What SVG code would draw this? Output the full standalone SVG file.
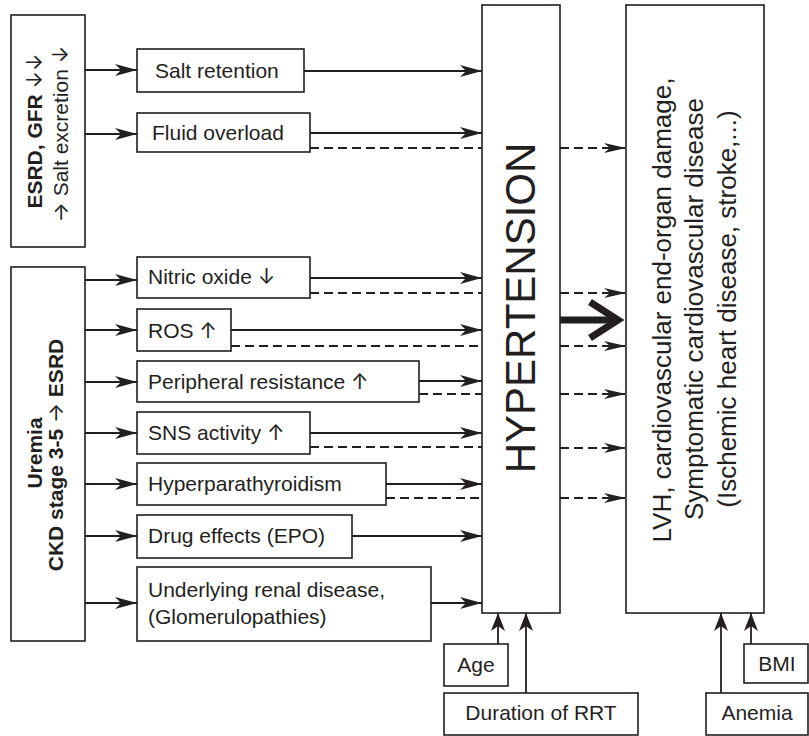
<svg xmlns="http://www.w3.org/2000/svg" width="809" height="736" viewBox="0 0 809 736">
<style>
.box{fill:#fff;stroke:#231f20;stroke-width:1.6}
.t{font-family:"Liberation Sans",Arial,sans-serif;font-size:21px;fill:#231f20}
.b{font-weight:bold}
.ar{font-family:Inter,"DejaVu Sans",sans-serif;font-weight:normal}
.ln{stroke:#231f20;stroke-width:1.8;fill:none}
.dash{stroke:#231f20;stroke-width:1.8;fill:none;stroke-dasharray:9 5}
</style>
<defs>
<marker id="ah" markerUnits="userSpaceOnUse" markerWidth="24" markerHeight="14" refX="22" refY="7" orient="auto">
<path d="M0,1 L22,7 L0,13 L6,7 Z" fill="#231f20"/>
</marker>
<marker id="ah2" markerUnits="userSpaceOnUse" markerWidth="24" markerHeight="14" refX="22" refY="7" orient="auto">
<path d="M0,2 L22,7 L0,12 L6,7 Z" fill="#231f20"/>
</marker>
<marker id="au" markerUnits="userSpaceOnUse" markerWidth="20" markerHeight="16" refX="18" refY="8" orient="auto">
<path d="M0,1 L18,8 L0,15 L5,8 Z" fill="#231f20"/>
</marker>
</defs>

<g id="esrd">
<rect class="box" x="11" y="15" width="74" height="232"/>
<text class="t b" transform="translate(42,131) rotate(-90)" text-anchor="middle">ESRD, GFR <tspan class="ar">↓↓</tspan></text>
<text class="t" transform="translate(68,134) rotate(-90)" text-anchor="middle"><tspan class="ar">→</tspan> Salt excretion <tspan class="ar">↓</tspan></text>
</g>
<g id="uremia">
<rect class="box" x="11" y="267" width="74" height="374"/>
<text class="t b" transform="translate(42,453) rotate(-90)" text-anchor="middle">Uremia</text>
<text class="t b" transform="translate(63,455) rotate(-90)" text-anchor="middle">CKD stage 3-5 <tspan class="ar">→</tspan> ESRD</text>
</g>

<g id="salt"><rect class="box" x="137" y="49" width="167" height="43"/><text class="t" x="155" y="78">Salt retention</text></g>
<g id="fluid"><rect class="box" x="137" y="113" width="173" height="39"/><text class="t" x="152" y="140">Fluid overload</text></g>
<g id="nitric"><rect class="box" x="137" y="257" width="173" height="41"/><text class="t" x="148" y="284">Nitric oxide <tspan class="ar">↓</tspan></text></g>
<g id="ros"><rect class="box" x="137" y="309" width="94" height="42"/><text class="t" x="148" y="338">ROS <tspan class="ar">↑</tspan></text></g>
<g id="peripheral"><rect class="box" x="137" y="361" width="282" height="41"/><text class="t" x="148" y="389">Peripheral resistance <tspan class="ar">↑</tspan></text></g>
<g id="sns"><rect class="box" x="137" y="412" width="173" height="42"/><text class="t" x="148" y="440">SNS activity <tspan class="ar">↑</tspan></text></g>
<g id="hyperpara"><rect class="box" x="137" y="463" width="249" height="42"/><text class="t" x="148" y="491">Hyperparathyroidism</text></g>
<g id="drug"><rect class="box" x="137" y="515" width="215" height="43"/><text class="t" x="148" y="543">Drug effects (EPO)</text></g>
<g id="underlying"><rect class="box" x="137" y="567" width="294" height="74"/><text class="t" x="148" y="597">Underlying renal disease,</text><text class="t" x="148" y="624">(Glomerulopathies)</text></g>

<g id="hypertension">
<rect class="box" x="482" y="5" width="78" height="608"/>
<text class="t" style="font-size:42px" transform="translate(535,308) rotate(-90)" text-anchor="middle">HYPERTENSION</text>
</g>
<g id="cvd">
<rect class="box" x="626" y="5" width="138" height="608"/>
<text class="t" style="font-size:26px" transform="translate(671,310) rotate(-90)" text-anchor="middle">LVH, cardiovascular end-organ damage,</text>
<text class="t" style="font-size:26px" transform="translate(703,309) rotate(-90)" text-anchor="middle">Symptomatic cardiovascular disease</text>
<text class="t" style="font-size:26px" transform="translate(736,309) rotate(-90)" text-anchor="middle">(Ischemic heart disease, stroke,...)</text>
</g>

<g id="age"><rect class="box" x="444" y="644" width="64" height="42"/><text class="t" x="476" y="672" text-anchor="middle">Age</text></g>
<g id="rrt"><rect class="box" x="444" y="693" width="194" height="42"/><text class="t" x="541" y="720" text-anchor="middle">Duration of RRT</text></g>
<g id="anemia"><rect class="box" x="706" y="693" width="102" height="42"/><text class="t" x="757" y="720" text-anchor="middle">Anemia</text></g>
<g id="bmi"><rect class="box" x="744" y="644" width="64" height="39"/><text class="t" x="777" y="671" text-anchor="middle">BMI</text></g>

<g id="connectors">
<path class="ln" marker-end="url(#ah)" d="M85,70H137"/>
<path class="ln" marker-end="url(#ah)" d="M85,134H137"/>
<path class="ln" marker-end="url(#ah)" d="M85,280H137"/>
<path class="ln" marker-end="url(#ah)" d="M85,330H137"/>
<path class="ln" marker-end="url(#ah)" d="M85,382H137"/>
<path class="ln" marker-end="url(#ah)" d="M85,433H137"/>
<path class="ln" marker-end="url(#ah)" d="M85,484H137"/>
<path class="ln" marker-end="url(#ah)" d="M85,536H137"/>
<path class="ln" marker-end="url(#ah)" d="M85,603H137"/>

<path class="ln" marker-end="url(#ah)" d="M304,71H482"/>
<path class="ln" marker-end="url(#ah)" d="M310,133H482"/>
<path class="ln" marker-end="url(#ah)" d="M310,278H482"/>
<path class="ln" marker-end="url(#ah)" d="M231,330H482"/>
<path class="ln" marker-end="url(#ah)" d="M419,381H482"/>
<path class="ln" marker-end="url(#ah)" d="M310,433H482"/>
<path class="ln" marker-end="url(#ah)" d="M386,484H482"/>
<path class="ln" marker-end="url(#ah)" d="M352,536H482"/>
<path class="ln" marker-end="url(#ah)" d="M431,603H482"/>

<path class="dash" d="M310,148H482"/>
<path class="dash" d="M310,293H482"/>
<path class="dash" d="M231,346H482"/>
<path class="dash" d="M419,394H482"/>
<path class="dash" d="M310,447H482"/>
<path class="dash" d="M386,498H482"/>

<path class="dash" marker-end="url(#ah2)" d="M560,148H626"/>
<path class="dash" marker-end="url(#ah2)" d="M560,293H626"/>
<path class="dash" marker-end="url(#ah2)" d="M560,346H626"/>
<path class="dash" marker-end="url(#ah2)" d="M560,394H626"/>
<path class="dash" marker-end="url(#ah2)" d="M560,448H626"/>
<path class="dash" marker-end="url(#ah2)" d="M560,498H626"/>

<path d="M560,320H618" stroke="#231f20" stroke-width="7" fill="none"/>
<path d="M590,302L618,320L590,338" stroke="#231f20" stroke-width="7" fill="none" stroke-linejoin="miter"/>

<path class="ln" marker-end="url(#au)" d="M498,644V613"/>
<path class="ln" marker-end="url(#au)" d="M526,693V613"/>
<path class="ln" marker-end="url(#au)" d="M721,693V613"/>
<path class="ln" marker-end="url(#au)" d="M751,644V613"/>
</g>
</svg>
